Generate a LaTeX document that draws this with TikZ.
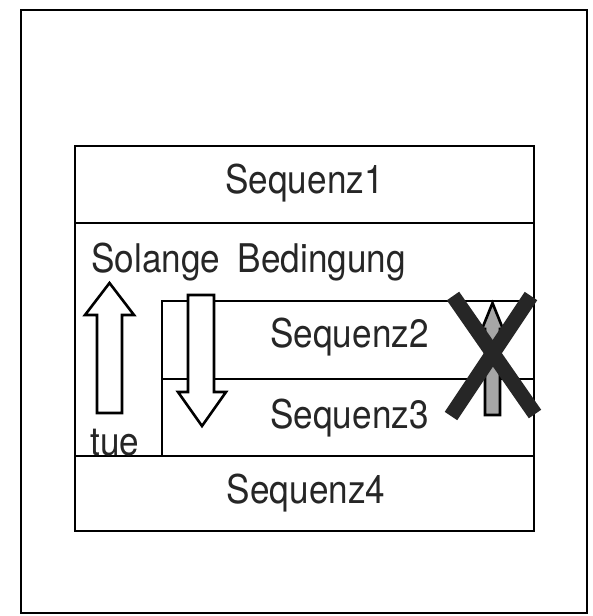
\documentclass[tikz,border=0pt]{standalone}
\usepackage{fontspec}
\setmainfont{TeX Gyre Heros}[FakeStretch=0.89,WordSpace=1.8]
\begin{document}
\begin{tikzpicture}[x=1pt,y=-1pt,line width=2.8pt,
	txt/.style={inner sep=0pt,anchor=base,text=black!85,font=\fontsize{39.5}{44}\selectfont},
	hollow/.style={draw,fill=white,line width=2.6pt,line join=miter}]
	\useasboundingbox (0,0) rectangle (592,616);
	\draw[line width=2.4pt] (21,10) rectangle (587,613);
	% Struktogramm
	\draw (75,146) rectangle (534,531);
	\draw (75,223) -- (534,223);
	\draw (75,456) -- (534,456);
	\draw (162,456) -- (162,301) -- (534,301);
	\draw (162,379) -- (534,379);
	\node[txt] (seq1) at (304.5,193) {Sequenz1};
	\node[txt,anchor=base west] (cond) at (90,272) {Solange Bedingung};
	\node[txt] (seq2) at (349.5,347) {Sequenz2};
	\node[txt] (seq3) at (349.5,428) {Sequenz3};
	\node[txt] (seq4) at (306,503) {Sequenz4};
	\node[txt,anchor=base west] (tue) at (89,455) {tue};
	% Pfeile
	\draw[hollow] (97,413) -- (97,315) -- (85,315) -- (109.5,283) -- (134,315) -- (122,315) -- (122,413) -- cycle;
	\draw[hollow] (188,295) -- (214,295) -- (214,392) -- (226,392) -- (202,426) -- (178,392) -- (188,392) -- cycle;
	\draw[hollow,fill=gray!70] (485,415) -- (485,329) -- (482,329) -- (492.5,303) -- (503,329) -- (500,329) -- (500,415) -- cycle;
	\draw[line width=15pt,black!85] (453,296) -- (535,414);
	\draw[line width=15pt,black!85] (531,296) -- (451,416);
\end{tikzpicture}
\end{document}
